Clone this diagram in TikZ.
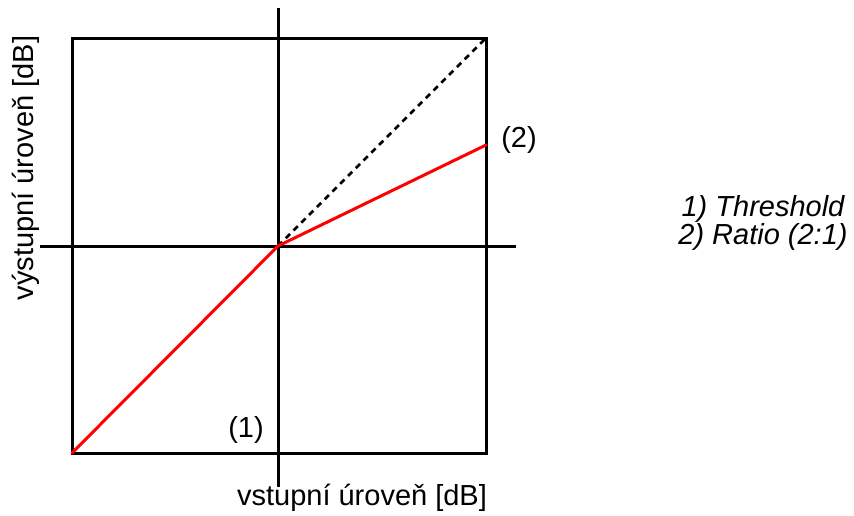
\documentclass[tikz,border=0pt]{standalone}
\usepackage{fontspec}
\setmainfont{Liberation Sans}
\usetikzlibrary{positioning}
\definecolor{curveRed}{HTML}{FF0000}

\begin{document}
\begin{tikzpicture}[
    x=1pt, y=-1pt,
    frame/.style={draw=black, line width=3pt},
    axis/.style={draw=black, line width=3pt},
    curve/.style={draw=curveRed, line width=3pt},
    ideal/.style={draw=black, line width=2.5pt, dash pattern=on 6pt off 5pt},
    label/.style={font=\fontsize{29}{27}\selectfont, inner sep=0pt}
]
  \useasboundingbox (0,0) rectangle (854,515);

  % Corners and centre
  \coordinate (bl) at (72,453);
  \coordinate (tr) at (486,38);
  \coordinate (o) at (278,246);
  \coordinate (knee) at (486,145);

  % Axes ends
  \coordinate (ytop) at (278,8);
  \coordinate (ybot) at (278,487);
  \coordinate (xleft) at (40,246);
  \coordinate (xright) at (516,246);

  % Frame and axes
  \draw[frame] (bl) rectangle (tr);
  \draw[axis] (ytop) -- (ybot);
  \draw[axis] (xleft) -- (xright);

  % Transfer curve
  \draw[ideal] (o) -- (tr);
  \draw[curve, line cap=round] (bl) -- (o) -- (knee);

  % Labels
  \node[label] (thr) at (246,430) {(1)};
  \node[label] (rat) at (519,140) {(2)};
  \node[label] (xlab) at (362,498) {vstupní úroveň [dB]};
  \node[label, rotate=90] (ylab) at (26,168) {výstupní úroveň [dB]};
  \node[label, align=center, font=\fontsize{29}{27}\selectfont\itshape] (legend) at (763,223)
      {1) Threshold\\2) Ratio (2:1)};
\end{tikzpicture}
\end{document}
